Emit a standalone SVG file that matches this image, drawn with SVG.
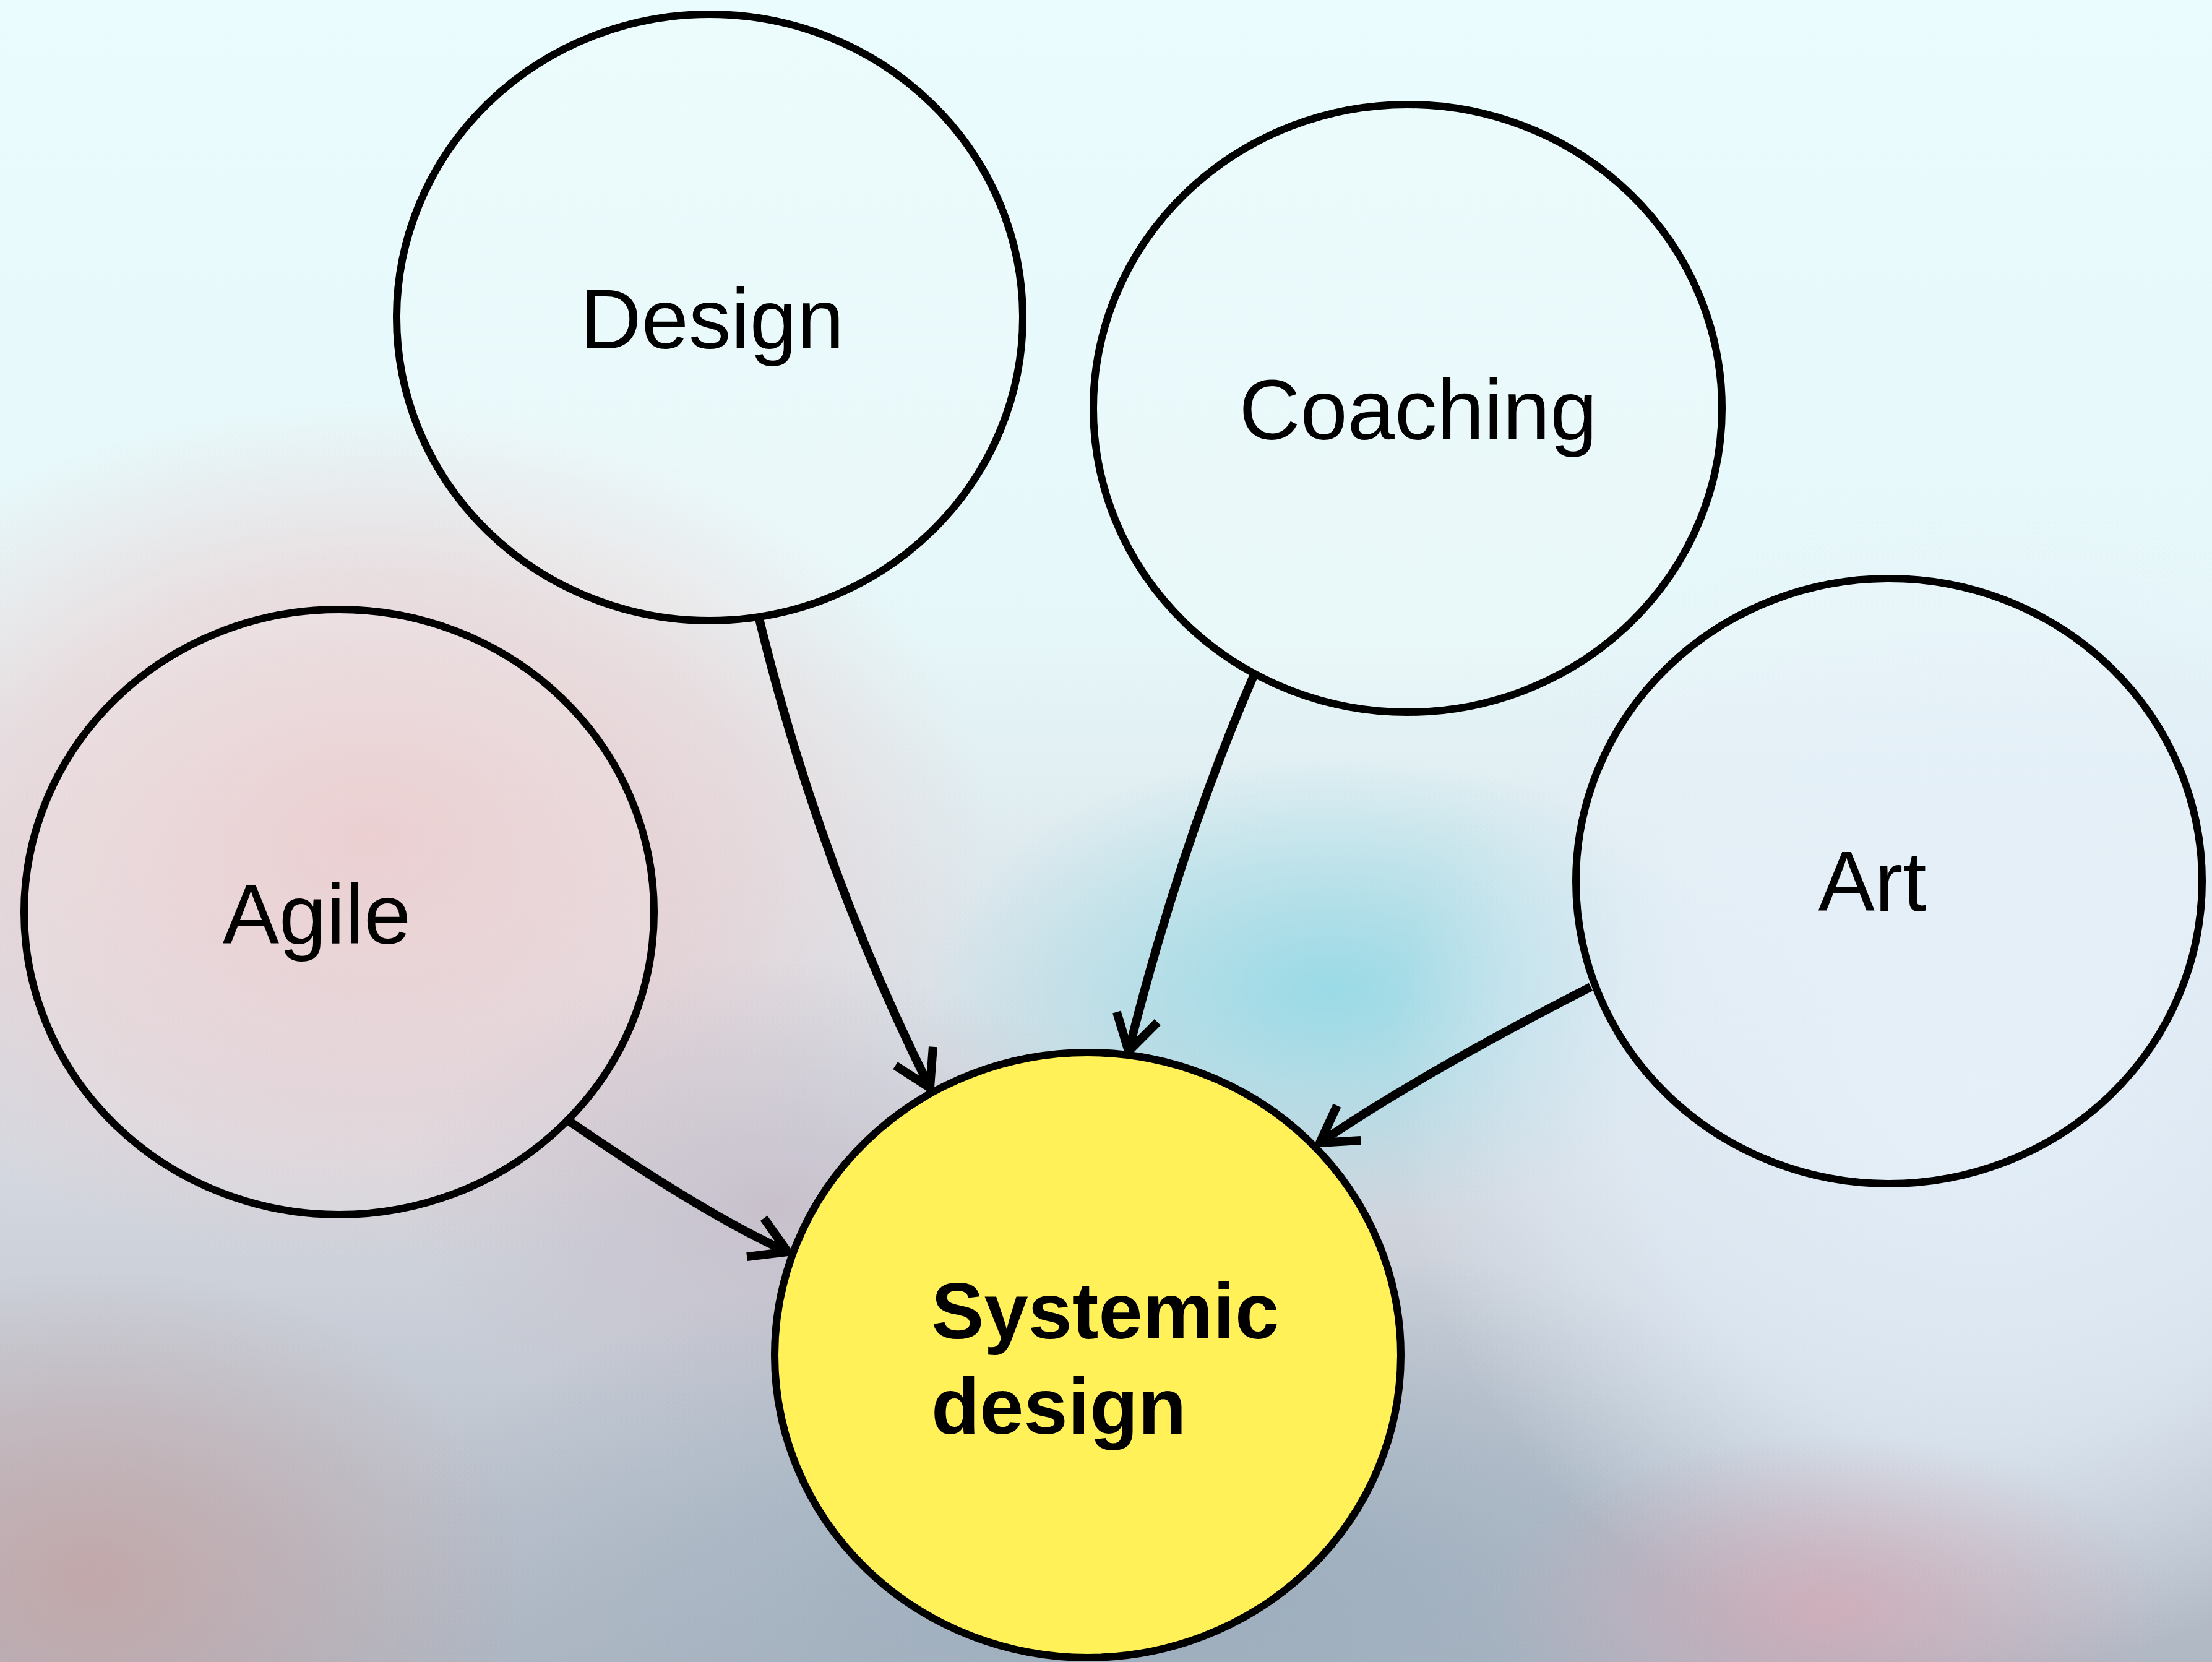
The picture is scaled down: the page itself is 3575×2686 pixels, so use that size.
<svg xmlns="http://www.w3.org/2000/svg" width="3575" height="2686" viewBox="0 0 3575 2686">
<defs>
<linearGradient id="bg" x1="0" y1="0" x2="0" y2="1">
<stop offset="0" stop-color="#eafcfd"/>
<stop offset="0.38" stop-color="#e6f7f9"/>
<stop offset="0.7" stop-color="#d4d8e0"/>
<stop offset="1" stop-color="#b0b8c4"/>
</linearGradient>
<radialGradient id="pink" cx="0.5" cy="0.5" r="0.5">
<stop offset="0" stop-color="#ebc6c8" stop-opacity="0.9"/>
<stop offset="0.6" stop-color="#ebc6c8" stop-opacity="0.5"/>
<stop offset="1" stop-color="#ebc6c8" stop-opacity="0"/>
</radialGradient>
<radialGradient id="cyan" cx="0.5" cy="0.5" r="0.5">
<stop offset="0" stop-color="#96dae6" stop-opacity="0.95"/>
<stop offset="1" stop-color="#96dae6" stop-opacity="0"/>
</radialGradient>
<radialGradient id="blue" cx="0.5" cy="0.5" r="0.5">
<stop offset="0" stop-color="#96aabb" stop-opacity="0.85"/>
<stop offset="1" stop-color="#96aabb" stop-opacity="0"/>
</radialGradient>
<radialGradient id="light" cx="0.5" cy="0.5" r="0.5">
<stop offset="0" stop-color="#e2eef8" stop-opacity="1"/>
<stop offset="0.6" stop-color="#e2eef8" stop-opacity="0.7"/>
<stop offset="1" stop-color="#e2eef8" stop-opacity="0"/>
</radialGradient>
<radialGradient id="rose" cx="0.5" cy="0.5" r="0.5">
<stop offset="0" stop-color="#d4aab6" stop-opacity="0.8"/>
<stop offset="1" stop-color="#d4aab6" stop-opacity="0"/>
</radialGradient>
<radialGradient id="brown" cx="0.5" cy="0.5" r="0.5">
<stop offset="0" stop-color="#c4a4a4" stop-opacity="0.85"/>
<stop offset="1" stop-color="#c4a4a4" stop-opacity="0"/>
</radialGradient>
<radialGradient id="mauve" cx="0.5" cy="0.5" r="0.5">
<stop offset="0" stop-color="#c6bcc8" stop-opacity="0.8"/>
<stop offset="1" stop-color="#c6bcc8" stop-opacity="0"/>
</radialGradient>
<marker id="arrow" markerUnits="userSpaceOnUse" viewBox="-80 -60 100 120" refX="0" refY="0" markerWidth="100" markerHeight="120" orient="auto" overflow="visible">
<path d="M -57 -34 L 0 0 L -57 34" fill="none" stroke="#000" stroke-width="14" stroke-linejoin="round"/>
</marker>
</defs>
<style>
.node { fill: #ffffff; fill-opacity: 0.12; stroke: #000; stroke-width: 12; }
.main { fill: #fff157; stroke: #000; stroke-width: 12; }
.lbl { font-family: "Liberation Sans", Arial, sans-serif; font-size: 137px; fill: #000; text-anchor: middle; }
.bold { font-family: "Liberation Sans", Arial, sans-serif; font-size: 128px; font-weight: bold; fill: #000; }
.edge { fill: none; stroke: #000; stroke-width: 14; marker-end: url(#arrow); }
</style>
<g id="background">
<rect x="0" y="0" width="3575" height="2686" fill="url(#bg)"/>
<ellipse cx="600" cy="1350" rx="1000" ry="700" fill="url(#pink)"/>
<ellipse cx="1250" cy="1950" rx="600" ry="400" fill="url(#mauve)"/>
<ellipse cx="2150" cy="1600" rx="650" ry="380" fill="url(#cyan)"/>
<ellipse cx="1900" cy="2550" rx="1300" ry="550" fill="url(#blue)"/>
<ellipse cx="3200" cy="1750" rx="950" ry="950" fill="url(#light)"/>
<ellipse cx="150" cy="2550" rx="700" ry="500" fill="url(#brown)"/>
<ellipse cx="2950" cy="2600" rx="550" ry="280" fill="url(#rose)"/>
</g>
<g id="connectors">
<path class="edge" d="M 1227 1000 Q 1325 1402 1503 1758"/>
<path class="edge" d="M 920 1812 Q 1146 1967 1273 2023"/>
<path class="edge" d="M 2027 1090 Q 1907 1367 1824 1699"/>
<path class="edge" d="M 2571 1595 Q 2297 1735 2133 1847"/>
</g>
<g id="node-design">
<ellipse class="node" cx="1147" cy="513" rx="506" ry="490"/>
<text class="lbl" x="1151" y="563">Design</text>
</g>
<g id="node-coaching">
<ellipse class="node" cx="2275" cy="660" rx="508" ry="491"/>
<text class="lbl" x="2292" y="710">Coaching</text>
</g>
<g id="node-agile">
<ellipse class="node" cx="548" cy="1474" rx="509" ry="489"/>
<text class="lbl" x="512" y="1525">Agile</text>
</g>
<g id="node-art">
<ellipse class="node" cx="3053" cy="1424" rx="506" ry="489"/>
<text class="lbl" x="3026" y="1472">Art</text>
</g>
<g id="node-systemic">
<ellipse class="main" cx="1758" cy="2190" rx="506" ry="489"/>
<text class="bold" x="1505" y="2163">Systemic</text>
<text class="bold" x="1505" y="2317">design</text>
</g>
</svg>
